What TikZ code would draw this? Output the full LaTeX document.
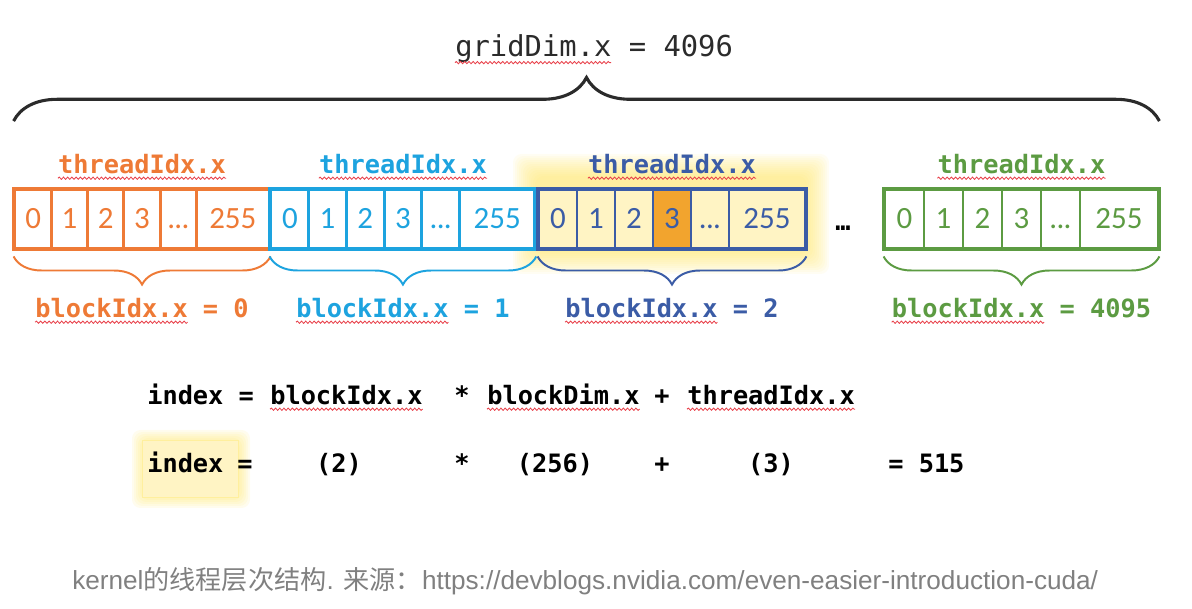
\documentclass[tikz,border=0pt]{standalone}
\usepackage{fontspec}
\usetikzlibrary{positioning,decorations.pathreplacing,decorations.pathmorphing}
\newfontfamily\codefont{DejaVu Sans Mono}
\newfontfamily\cellfont{Carlito}
\newfontfamily\capfont{Liberation Sans}
\newfontfamily\cjkfont{Noto Sans CJK SC}
\definecolor{corange}{HTML}{EE7A36}
\definecolor{ccyan}{HTML}{1DA3DF}
\definecolor{cblue}{HTML}{3B5CA6}
\definecolor{cgreen}{HTML}{5C9B42}
\definecolor{chot}{HTML}{F2A42E}
\definecolor{cpale}{HTML}{FFF4C4}
\definecolor{cglow}{HTML}{FFE45C}
\definecolor{cdark}{HTML}{2B2B2B}
\definecolor{cwave}{HTML}{E8414B}
\definecolor{ccap}{HTML}{808080}
\tikzset{
  lbl/.style={inner sep=0pt,font=\codefont\bfseries\fontsize{18}{20}\selectfont},
  cell/.style={draw=#1,text=#1,line width=2pt,minimum height=1.45cm,inner sep=0pt,
    text height=14pt,text depth=0pt,font=\cellfont\fontsize{22}{24}\selectfont},
  cellb3/.style={fill=chot},
  frame/.style={draw=#1,line width=2.8pt},
  bigbrace/.style={decorate,decoration={brace,amplitude=31pt},draw=cdark,line width=2.2pt},
  smallbrace/.style={decorate,decoration={brace,mirror,amplitude=20pt},draw=#1,line width=1.4pt},
  squig/.style={decorate,decoration={snake,amplitude=0.8pt,segment length=3pt},draw=cwave,line width=0.6pt},
  glow/.style={fill=cglow,fill opacity=0.07,rounded corners=6pt},
}
\begin{document}
\begin{tikzpicture}[x=0.025cm,y=-0.025cm]
  \useasboundingbox (0,0) rectangle (1192,609);
  % yellow glow behind block 2 and the result
  \foreach \g in {2,4,...,24}
    \fill[glow] ({537-\g},{178-\g}) rectangle ({805+\g},{250+\g});
  \foreach \g in {2,4,...,12}
    \fill[glow,fill opacity=0.1] ({144-\g},{442-\g}) rectangle ({238+\g},{496+\g});
  \draw[fill=cpale,draw=cglow!60,line width=0.6pt] (142,440) rectangle (238,497);

  % blocks
  \foreach \nm/\x/\w/\col/\bg/\bid in {o/15/36.3/corange/white/0,c/271/37.7/ccyan/white/1,
      b/539/38/cblue/cpale/2,g/885/39/cgreen/white/4095}{
    \foreach \i/\t in {0/0,1/1,2/2,3/3,4/{.\kern-0.5pt.\kern-0.5pt.}}
      \node[cell=\col,fill=\bg,minimum width=\w*0.025cm,cell\nm\i/.try] (\nm\i) at ({\x+(\i+0.5)*\w},219) {\t};
    \node[cell=\col,fill=\bg,minimum width=2*\w*0.025cm] (\nm5) at ({\x+6*\w},219) {255};
    \draw[frame=\col] (\nm0.north west) rectangle (\nm5.south east);
    \node[lbl,text=\col,anchor=base] (\nm t) at ({\x+3.5*\w},174) {threadIdx.x};
    \draw[squig] ([yshift=-3pt]\nm t.base west) -- ([yshift=-3pt]\nm t.base east);
    \draw[smallbrace=\col] ([yshift=-5pt]\nm0.south west) -- ([yshift=-5pt]\nm5.south east);
    \node[lbl,text=\col,anchor=base] (\nm k) at ({\x+3.5*\w},318) {blockIdx.x = \bid};
    \draw[squig] ([yshift=-3pt]\nm k.base west) -- ([xshift=108.4pt,yshift=-3pt]\nm k.base west);
  }
  \node[lbl,anchor=base,font=\codefont\fontsize{18}{20}\selectfont\bfseries] (dots) at (843,231) {…};

  % grid
  \draw[bigbrace] ([yshift=48pt]o0.north west) -- ([yshift=48pt]g5.north east);
  \node[inner sep=0pt,anchor=base west,text=cdark,font=\codefont\fontsize{20.5}{22}\selectfont] (grid) at (455,57) {gridDim.x = 4096};
  \draw[squig] ([yshift=-4pt]grid.base west) -- ([xshift=111pt,yshift=-4pt]grid.base west);

  % formula
  \node[lbl,anchor=base west] (fi) at (147,405) {index =};
  \node[lbl,anchor=base west] (fb) at (270,405) {blockIdx.x};
  \node[lbl,anchor=base] (fm) at (462,405) {*};
  \node[lbl,anchor=base west] (fd) at (487,405) {blockDim.x};
  \node[lbl,anchor=base] (fp) at (662,405) {+};
  \node[lbl,anchor=base west] (ft) at (687,405) {threadIdx.x};
  \foreach \n in {fb,fd,ft}
    \draw[squig] ([yshift=-3pt]\n.base west) -- ([yshift=-3pt]\n.base east);

  \node[lbl,anchor=base west] (ri) at (147,473) {index};
  \node[lbl,anchor=base] (re) at (245,473) {=};
  \node[lbl,anchor=base] (rb) at (339,473) {(2)};
  \node[lbl,anchor=base] (rm) at (462,473) {*};
  \node[lbl,anchor=base] (rd) at (555,473) {(256)};
  \node[lbl,anchor=base] (rp) at (662,473) {+};
  \node[lbl,anchor=base] (rt) at (771,473) {(3)};
  \node[lbl,anchor=base west] (rr) at (888,473) {= 515};

  \node[inner sep=0pt,anchor=base west,text=ccap,font=\capfont\fontsize{18.6}{22}\selectfont] (cap) at (72,590)
    {kernel{\cjkfont 的线程层次结构}. {\cjkfont 来源：}https://devblogs.nvidia.com/even-easier-introduction-cuda/};
\end{tikzpicture}
\end{document}
